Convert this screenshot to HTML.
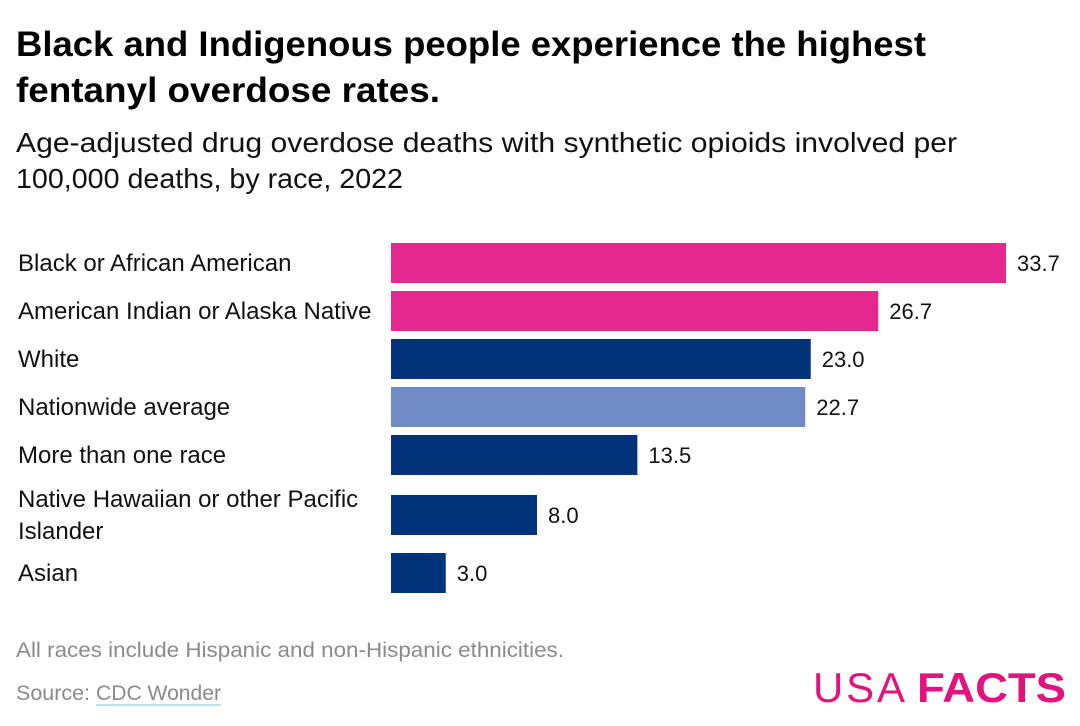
<!DOCTYPE html>
<html><head><meta charset="utf-8"><style>
html,body{margin:0;padding:0;background:#fff;}
svg{display:block;font-family:"Liberation Sans",sans-serif;}
</style></head><body>
<svg id="chart" width="1080" height="726" viewBox="0 0 1080 726">
<text x="16" y="56" font-size="35" font-weight="bold" fill="#000" textLength="910" lengthAdjust="spacingAndGlyphs">Black and Indigenous people experience the highest</text>
<text x="16" y="102" font-size="35" font-weight="bold" fill="#000" textLength="424" lengthAdjust="spacingAndGlyphs">fentanyl overdose rates.</text>
<text x="16" y="152" font-size="28" fill="#111" textLength="941" lengthAdjust="spacingAndGlyphs">Age-adjusted drug overdose deaths with synthetic opioids involved per</text>
<text x="16" y="188" font-size="28" fill="#111" textLength="387" lengthAdjust="spacingAndGlyphs">100,000 deaths, by race, 2022</text>
<g id="bars"></g>
<text x="16" y="657" font-size="21" fill="#8a8a8a" textLength="548" lengthAdjust="spacingAndGlyphs">All races include Hispanic and non-Hispanic ethnicities.</text>
<text x="16" y="700" font-size="21" fill="#8a8a8a" textLength="74" lengthAdjust="spacingAndGlyphs">Source:</text>
<text x="96" y="700" font-size="21" fill="#8a8a8a" textLength="125" lengthAdjust="spacingAndGlyphs">CDC Wonder</text>
<rect x="96" y="704" width="125" height="2" fill="#bfe0ee"/>
<text x="813" y="702" font-size="42" fill="#e2137f" textLength="92" lengthAdjust="spacing" style="font-weight:300">USA</text>
<text x="917" y="702" font-size="42" fill="#e2137f" font-weight="bold" textLength="149" lengthAdjust="spacingAndGlyphs">FACTS</text>
</svg>
<script>
const categories = ["Black or African American","American Indian or Alaska Native","White","Nationwide average","More than one race","Native Hawaiian or other Pacific Islander","Asian"];
const values = [33.7, 26.7, 23.0, 22.7, 13.5, 8.0, 3.0];
const valueLabels = ["33.7","26.7","23.0","22.7","13.5","8.0","3.0"];
const groups = ["highlight","highlight","normal","average","normal","normal","normal"];

const NS = "http://www.w3.org/2000/svg";
const g = document.getElementById("bars");
const x0 = 391, pxPerUnit = 615/33.7;
const xScale = v => x0 + v*pxPerUnit;
const colors = {highlight:"#e5288e", normal:"#00337a", average:"#718bc6"};
const barH = 40;
let y = 243;
categories.forEach((c, i) => {
  const wrap = c.length > 36;
  const rowH = wrap ? 70 : 48;
  const by = wrap ? y + 12 : y;
  const rect = document.createElementNS(NS, "rect");
  rect.setAttribute("x", x0);
  rect.setAttribute("y", by);
  rect.setAttribute("width", xScale(values[i]) - x0);
  rect.setAttribute("height", barH);
  rect.setAttribute("fill", colors[groups[i]]);
  
  
  g.appendChild(rect);
  const vt = document.createElementNS(NS, "text");
  vt.setAttribute("x", xScale(values[i]) + 11);
  vt.setAttribute("y", by + 28);
  vt.setAttribute("font-size", "22");
  vt.setAttribute("fill", "#111");
  vt.textContent = valueLabels[i];
  
  
  g.appendChild(vt);
  const lines = wrap ? ["Native Hawaiian or other Pacific","Islander"] : [c];
  lines.forEach((ln, k) => {
    const t = document.createElementNS(NS, "text");
    t.setAttribute("x", 18);
    t.setAttribute("y", wrap ? by + 12 + k*32 : by + 28);
    t.setAttribute("font-size", "24");
    t.setAttribute("fill", "#111");
    t.textContent = ln;
    
    
    g.appendChild(t);
  });
  y += rowH;
});
</script>
</body></html>
